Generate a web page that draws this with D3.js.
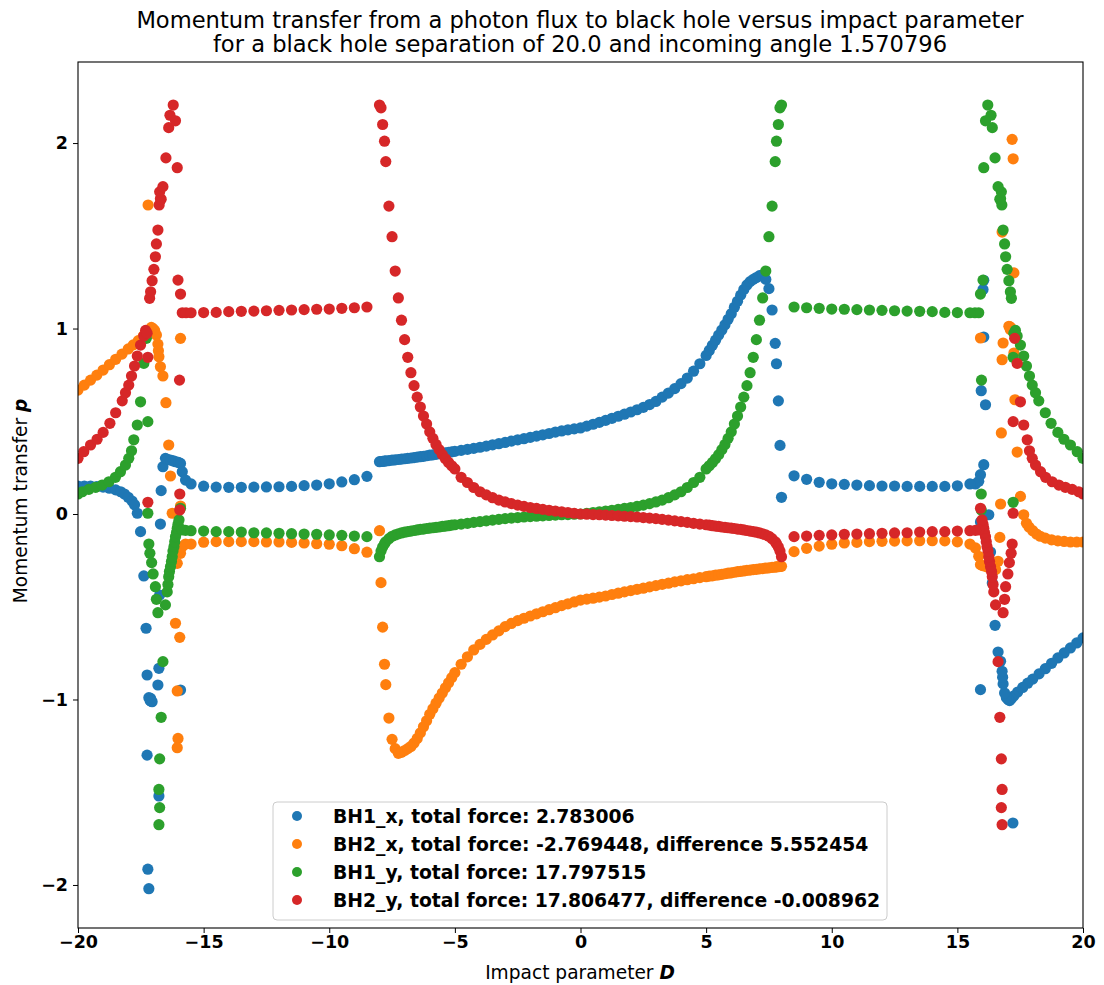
<!DOCTYPE html>
<html>
<head>
<meta charset="utf-8">
<script src="https://cdn.jsdelivr.net/npm/d3@7"></script>
<style>
  body { margin: 0; background: #fff; }
  svg { font-family: "DejaVu Sans", sans-serif; }
</style>
</head>
<body>
<div id="chart"></div>
<script>
// impact parameter grid for the dense middle part (-8 .. 8)
const D_mid = [-8,-7.94,-7.875,-7.8,-7.75,-7.625,-7.5,-7.375,-7.25,-7.125,-7,-6.875,-6.75,-6.625,-6.5,-6.375,-6.25,-6.125,-6,-5.875,-5.75,-5.625,-5.5,-5.375,-5.25,-5.125,-5,
  -4.75,-4.5,-4.25,-4,-3.75,-3.5,-3.25,-3,-2.75,-2.5,-2.25,-2,-1.75,-1.5,-1.25,-1,-0.75,-0.5,-0.25,0,
  0.25,0.5,0.75,1,1.25,1.5,1.75,2,2.25,2.5,2.75,3,3.25,3.5,3.75,4,4.25,4.5,4.75,
  5,5.125,5.25,5.375,5.5,5.625,5.75,5.875,6,6.125,6.25,6.375,6.5,6.625,6.75,6.875,7,7.125,7.25,7.375,7.5,7.625,7.75,7.8,7.875,7.94,8]

const bh1x_mid = [0.282,0.283,0.284,0.285,0.286,0.288,0.29,0.292,0.294,0.296,0.298,0.3,0.302,0.304,0.307,0.309,0.311,0.314,0.317,0.319,0.322,0.325,0.328,0.33,0.333,0.335,0.338,
  0.343,0.349,0.354,0.36,0.366,0.373,0.379,0.386,0.393,0.4,0.406,0.413,0.42,0.427,0.434,0.442,0.448,0.454,0.459,0.464,
  0.474,0.484,0.494,0.505,0.516,0.527,0.538,0.55,0.562,0.575,0.59,0.607,0.63,0.652,0.676,0.703,0.733,0.77,0.81,
  0.855,0.882,0.91,0.937,0.965,0.992,1.02,1.05,1.08,1.115,1.147,1.18,1.21,1.235,1.253,1.265,1.275,1.285,1.29,1.265,1.215,1.1,0.92,0.81,0.61,0.37,0.09]

const bh2x_mid = [-0.09,-0.37,-0.61,-0.81,-0.92,-1.1,-1.215,-1.265,-1.29,-1.285,-1.275,-1.265,-1.253,-1.235,-1.21,-1.18,-1.147,-1.115,-1.08,-1.05,-1.02,-0.992,-0.965,-0.937,-0.91,-0.882,-0.855,
  -0.81,-0.77,-0.733,-0.703,-0.676,-0.652,-0.63,-0.607,-0.59,-0.575,-0.562,-0.55,-0.538,-0.527,-0.516,-0.505,-0.494,-0.484,-0.474,-0.464,
  -0.459,-0.454,-0.448,-0.442,-0.434,-0.427,-0.42,-0.413,-0.406,-0.4,-0.393,-0.386,-0.379,-0.373,-0.366,-0.36,-0.354,-0.349,-0.343,
  -0.338,-0.335,-0.333,-0.33,-0.328,-0.325,-0.322,-0.319,-0.317,-0.314,-0.311,-0.309,-0.307,-0.304,-0.302,-0.3,-0.298,-0.296,-0.294,-0.292,-0.29,-0.288,-0.286,-0.285,-0.284,-0.283,-0.282]

const bh1y_mid = [-0.23,-0.2,-0.178,-0.16,-0.15,-0.133,-0.12,-0.113,-0.107,-0.102,-0.098,-0.095,-0.092,-0.089,-0.086,-0.083,-0.081,-0.078,-0.076,-0.074,-0.072,-0.07,-0.067,-0.065,-0.063,-0.06,-0.058,
  -0.054,-0.05,-0.045,-0.041,-0.037,-0.033,-0.029,-0.025,-0.022,-0.019,-0.016,-0.014,-0.012,-0.01,-0.008,-0.006,-0.004,-0.003,-0.001,0,
  0.004,0.008,0.012,0.016,0.02,0.025,0.03,0.035,0.041,0.048,0.056,0.065,0.075,0.088,0.103,0.12,0.143,0.17,0.198,
  0.243,0.26,0.278,0.298,0.32,0.347,0.375,0.408,0.443,0.485,0.528,0.577,0.63,0.692,0.762,0.845,0.94,1.045,1.165,1.31,1.495,1.66,1.9,2.01,2.1,2.19,2.205]

const bh2y_mid = [2.205,2.19,2.1,2.01,1.9,1.66,1.495,1.31,1.165,1.045,0.94,0.845,0.762,0.692,0.63,0.577,0.528,0.485,0.443,0.408,0.375,0.347,0.32,0.298,0.278,0.26,0.243,
  0.198,0.17,0.143,0.12,0.103,0.088,0.075,0.065,0.056,0.048,0.041,0.035,0.03,0.025,0.02,0.016,0.012,0.008,0.004,0,
  -0.001,-0.003,-0.004,-0.006,-0.008,-0.01,-0.012,-0.014,-0.016,-0.019,-0.022,-0.025,-0.029,-0.033,-0.037,-0.041,-0.045,-0.05,-0.054,
  -0.058,-0.06,-0.063,-0.065,-0.067,-0.07,-0.072,-0.074,-0.076,-0.078,-0.081,-0.083,-0.086,-0.089,-0.092,-0.095,-0.098,-0.102,-0.107,-0.113,-0.12,-0.133,-0.15,-0.16,-0.178,-0.2,-0.23]

// coarse steps between the holes
const D_coarseL = [-15.5,-15,-14.5,-14,-13.5,-13,-12.5,-12,-11.5,-11,-10.5,-10,-9.5,-9,-8.5]
const bh1x_coarseL = [0.162,0.15,0.145,0.144,0.144,0.145,0.146,0.147,0.149,0.153,0.156,0.163,0.173,0.185,0.203]
const bh2x_coarseL = [-0.162,-0.152,-0.149,-0.149,-0.149,-0.149,-0.151,-0.151,-0.153,-0.156,-0.16,-0.163,-0.171,-0.187,-0.206]
const bh1y_coarseL = [-0.09,-0.092,-0.095,-0.095,-0.097,-0.101,-0.102,-0.104,-0.106,-0.108,-0.109,-0.113,-0.115,-0.119,-0.122]
const bh2y_coarseL = [1.085,1.086,1.087,1.091,1.093,1.094,1.096,1.098,1.1,1.102,1.104,1.105,1.109,1.112,1.116]

const D_coarseR = [8.5,9,9.5,10,10.5,11,11.5,12,12.5,13,13.5,14,14.5,15,15.5]
const bh1x_coarseR = [0.206,0.187,0.171,0.163,0.16,0.156,0.153,0.151,0.151,0.149,0.149,0.149,0.149,0.152,0.162]
const bh2x_coarseR = [-0.203,-0.185,-0.173,-0.163,-0.156,-0.153,-0.149,-0.147,-0.146,-0.145,-0.144,-0.144,-0.145,-0.15,-0.162]
const bh1y_coarseR = [1.116,1.112,1.109,1.105,1.104,1.102,1.1,1.098,1.096,1.094,1.093,1.091,1.087,1.086,1.085]
const bh2y_coarseR = [-0.122,-0.119,-0.115,-0.113,-0.109,-0.108,-0.106,-0.104,-0.102,-0.101,-0.097,-0.095,-0.095,-0.092,-0.09]

// outer parts and the scattered points close to D = +-17, as [D, p]
const bh1x_edge = [[-20,0.151],[-19.75,0.151],[-19.5,0.151],[-19.25,0.148],[-19,0.145],[-18.75,0.139],[-18.5,0.13],[-18.3,0.12],[-18.15,0.108],[-18,0.09],[-17.85,0.07],[-17.75,0.05],[-17.64,0.004],[-17.51,-0.095],[-17.38,-0.334],[-17.29,-0.616],
  [-17.25,-0.868],[-17.11,-0.994],[-17.05,-1.012],[-17.18,-0.99],[-17.13,-1.005],[-17.08,-1.01],[-17.25,-1.3],[-16.78,-1.52],[-17.22,-1.915],[-17.18,-2.02],[-16.82,-0.922],[-16.78,-0.832],[-16.72,-0.054],[-16.75,-0.437],[-16.69,0.126],[-16.62,0.255],[-16.52,0.3],[-16.45,0.295],[-16.32,0.291],[-16.2,0.286],[-16.12,0.282],[-16,0.278],[-15.92,0.273],[-15.85,0.228],[-15.72,0.183],[-15.92,-0.949],
  [20,-0.668],[19.75,-0.695],[19.5,-0.722],[19.25,-0.749],[19,-0.776],[18.75,-0.805],[18.5,-0.834],[18.25,-0.862],[18,-0.89],[17.8,-0.912],[17.6,-0.935],[17.4,-0.96],[17.25,-0.98],[17.15,-0.995],[17.08,-1.006],
  [17.21,-1.666],[17.02,-1],[16.95,-0.99],[16.88,-0.965],[16.82,-0.916],[16.8,-0.88],[16.78,-0.848],[16.72,-0.794],[16.62,-0.744],[16.5,-0.6],[16.39,-0.372],[16.32,-0.205],[16.25,-0.004],[16.12,0.589],[16.05,0.954],[16.02,1.21],[16.05,1.26],[15.95,0.665],[16.05,0.266],[15.92,0.212],[15.85,0.176],[15.72,0.162],[15.92,-0.043],[15.92,-0.947]]

const bh2x_edge = [[-20,0.668],[-19.75,0.695],[-19.5,0.722],[-19.25,0.749],[-19,0.776],[-18.75,0.805],[-18.5,0.834],[-18.25,0.862],[-18,0.89],[-17.8,0.912],[-17.6,0.935],[-17.4,0.96],[-17.25,0.98],[-17.15,0.995],[-17.08,1.006],
  [-17.21,1.666],[-17.02,1],[-16.95,0.99],[-16.88,0.965],[-16.82,0.916],[-16.8,0.88],[-16.78,0.848],[-16.72,0.794],[-16.62,0.744],[-16.5,0.6],[-16.39,0.372],[-16.32,0.205],[-16.25,0.004],[-16.12,-0.589],[-16.05,-0.954],[-16.02,-1.21],[-16.05,-1.26],[-15.95,-0.665],[-16.05,-0.266],[-15.92,-0.212],[-15.85,-0.176],[-15.72,-0.162],[-15.92,0.043],[-15.92,0.947],
  [20,-0.151],[19.75,-0.151],[19.5,-0.151],[19.25,-0.148],[19,-0.145],[18.75,-0.139],[18.5,-0.13],[18.3,-0.12],[18.15,-0.108],[18,-0.09],[17.85,-0.07],[17.75,-0.05],[17.64,-0.004],[17.51,0.095],[17.38,0.334],[17.29,0.616],
  [17.25,0.868],[17.11,0.994],[17.05,1.012],[17.18,0.99],[17.13,1.005],[17.08,1.01],[17.25,1.3],[16.78,1.52],[17.22,1.915],[17.18,2.02],[16.82,0.922],[16.78,0.832],[16.72,0.054],[16.75,0.437],[16.69,-0.126],[16.62,-0.255],[16.52,-0.3],[16.45,-0.295],[16.32,-0.291],[16.2,-0.286],[16.12,-0.282],[16,-0.278],[15.92,-0.273],[15.85,-0.228],[15.72,-0.183],[15.92,0.949]]

const bh1y_edge = [[-20,0.108],[-19.83,0.12],[-19.57,0.133],[-19.3,0.144],[-19.04,0.156],[-18.77,0.174],[-18.51,0.198],[-18.31,0.228],[-18.11,0.264],[-17.98,0.3],[-17.87,0.341],[-17.78,0.4],[-17.64,0.48],[-17.51,0.605],[-17.38,0.812],[-17.28,0.947],
  [-17.22,0.498],[-17.22,0.004],[-17.18,-0.162],[-17.14,-0.212],[-17.07,-0.262],[-17.01,-0.323],[-16.92,-0.392],[-16.88,-0.46],[-16.82,-0.532],[-16.62,-0.796],[-16.69,-1.096],[-16.75,-1.32],[-16.78,-1.485],[-16.75,-1.583],[-16.78,-1.675],[-16.52,-0.49],[-16.45,-0.42],[-16.42,-0.38],[-16.39,-0.338],[-16.36,-0.31],[-16.32,-0.284],[-16.28,-0.256],[-16.25,-0.23],[-16.22,-0.2],[-16.18,-0.176],[-16.15,-0.15],[-16.12,-0.122],[-16.08,-0.1],[-16.05,-0.077],[-16.02,-0.055],[-15.98,-0.032],[-15.92,0.031],[-15.85,-0.085],[-15.72,-0.088],
  [20,0.3],[19.77,0.336],[19.5,0.372],[19.24,0.403],[19,0.44],[18.73,0.489],[18.5,0.546],[18.24,0.61],[18.11,0.654],[17.98,0.695],[17.87,0.744],[17.75,0.798],[17.64,0.852],[17.51,0.911],[17.38,0.96],[17.31,0.99],
  [17.25,0.975],[17.22,0.845],[17.22,0.063],[17.15,1.163],[17.11,1.198],[17.05,1.258],[16.98,1.319],[16.92,1.387],[16.88,1.456],[16.82,1.531],[16.77,1.666],[16.72,1.7],[16.69,1.697],[16.75,1.737],[16.62,1.765],[16.5,1.92],[16.39,2.083],[16.34,2.15],[16.21,2.205],[16.12,2.12],[16.05,1.867],[16.02,1.261],[15.92,1.186],[15.96,0.722],[15.95,0.108],[15.95,0.022],[15.85,1.085],[15.7,1.085]]

const bh2y_edge = [[-20,0.3],[-19.77,0.336],[-19.5,0.372],[-19.24,0.403],[-19,0.44],[-18.73,0.489],[-18.5,0.546],[-18.24,0.61],[-18.11,0.654],[-17.98,0.695],[-17.87,0.744],[-17.75,0.798],[-17.64,0.852],[-17.51,0.911],[-17.38,0.96],[-17.31,0.99],
  [-17.25,0.975],[-17.22,0.845],[-17.22,0.063],[-17.15,1.163],[-17.11,1.198],[-17.05,1.258],[-16.98,1.319],[-16.92,1.387],[-16.88,1.456],[-16.82,1.531],[-16.77,1.666],[-16.72,1.7],[-16.69,1.697],[-16.75,1.737],[-16.62,1.765],[-16.5,1.92],[-16.39,2.083],[-16.34,2.15],[-16.21,2.205],[-16.12,2.12],[-16.05,1.867],[-16.02,1.261],[-15.92,1.186],[-15.96,0.722],[-15.95,0.108],[-15.95,0.022],[-15.85,1.085],[-15.7,1.085],
  [20,0.108],[19.83,0.12],[19.57,0.133],[19.3,0.144],[19.04,0.156],[18.77,0.174],[18.51,0.198],[18.31,0.228],[18.11,0.264],[17.98,0.3],[17.87,0.341],[17.78,0.4],[17.64,0.48],[17.51,0.605],[17.38,0.812],[17.28,0.947],
  [17.22,0.498],[17.22,0.004],[17.18,-0.162],[17.14,-0.212],[17.07,-0.262],[17.01,-0.323],[16.92,-0.392],[16.88,-0.46],[16.82,-0.532],[16.62,-0.796],[16.69,-1.096],[16.75,-1.32],[16.78,-1.485],[16.75,-1.583],[16.78,-1.675],[16.52,-0.49],[16.45,-0.42],[16.42,-0.38],[16.39,-0.338],[16.36,-0.31],[16.32,-0.284],[16.28,-0.256],[16.25,-0.23],[16.22,-0.2],[16.18,-0.176],[16.15,-0.15],[16.12,-0.122],[16.08,-0.1],[16.05,-0.077],[16.02,-0.055],[15.98,-0.032],[15.92,0.031],[15.85,-0.085],[15.72,-0.088]]

const seriesNames = ["BH1_x, total force: 2.783006",
  "BH2_x, total force: -2.769448, difference 5.552454",
  "BH1_y, total force: 17.797515",
  "BH2_y, total force: 17.806477, difference -0.008962"]
const colors = ["#1f77b4", "#ff7f0e", "#2ca02c", "#d62728"]
const xTicks = [-20, -15, -10, -5, 0, 5, 10, 15, 20]
const yTicks = [-2, -1, 0, 1, 2]

// build the point lists per series
function pairs(ds, ps) { return ds.map((d, i) => [d, ps[i]]) }
const series = [
  bh1x_edge.concat(pairs(D_coarseL, bh1x_coarseL), pairs(D_mid, bh1x_mid), pairs(D_coarseR, bh1x_coarseR)),
  bh2x_edge.concat(pairs(D_coarseL, bh2x_coarseL), pairs(D_mid, bh2x_mid), pairs(D_coarseR, bh2x_coarseR)),
  bh1y_edge.concat(pairs(D_coarseL, bh1y_coarseL), pairs(D_mid, bh1y_mid), pairs(D_coarseR, bh1y_coarseR)),
  bh2y_edge.concat(pairs(D_coarseL, bh2y_coarseL), pairs(D_mid, bh2y_mid), pairs(D_coarseR, bh2y_coarseR))
]

width = 1104
height = 985
plot = {left: 78, right: 1083, top: 62, bottom: 928}

x = d3.scaleLinear().domain([-20, 20]).range([plot.left, plot.right])
y = d3.scaleLinear().domain([-2.232, 2.437]).range([plot.bottom, plot.top])

const minus = v => String(v).replace("-", "\u2212")

var svg = d3.select("#chart").append("svg")
    .attr("width", width)
    .attr("height", height)

svg.append("defs").append("clipPath").attr("id", "clip")
  .append("rect")
    .attr("x", plot.left).attr("y", plot.top)
    .attr("width", plot.right - plot.left).attr("height", plot.bottom - plot.top)

// points, one layer per series, drawn in order
var pts = svg.append("g").attr("clip-path", "url(#clip)")
series.forEach(function(s, i) {
  pts.append("g")
    .selectAll("circle")
    .data(s)
    .join("circle")
      .attr("cx", d => x(d[0]))
      .attr("cy", d => y(d[1]))
      .attr("r", 5.6)
      .attr("fill", colors[i])
})

// frame
svg.append("rect")
    .attr("x", plot.left).attr("y", plot.top)
    .attr("width", plot.right - plot.left).attr("height", plot.bottom - plot.top)
    .attr("fill", "none").attr("stroke", "#000").attr("stroke-width", 1.1)

// axes
svg.append("g")
    .attr("transform", "translate(0," + plot.bottom + ")")
    .call(d3.axisBottom(x).tickValues(xTicks).tickSize(5).tickPadding(2.5).tickFormat(minus))
    .call(g => g.select(".domain").remove())
    .call(g => g.selectAll("text").attr("font-size", "17.5px").attr("font-weight", "bold")
              .attr("font-family", "DejaVu Sans").attr("fill", "#000"))

svg.append("g")
    .attr("transform", "translate(" + plot.left + ",0)")
    .call(d3.axisLeft(y).tickValues(yTicks).tickSize(5).tickPadding(5).tickFormat(minus))
    .call(g => g.select(".domain").remove())
    .call(g => g.selectAll("text").attr("font-size", "17.5px").attr("font-weight", "bold")
              .attr("font-family", "DejaVu Sans").attr("fill", "#000"))

// title
svg.append("text")
    .attr("x", 580).attr("y", 28)
    .attr("text-anchor", "middle").attr("font-size", "22.6px")
    .text("Momentum transfer from a photon flux to black hole versus impact parameter")
svg.append("text")
    .attr("x", 580).attr("y", 52)
    .attr("text-anchor", "middle").attr("font-size", "22.6px")
    .text("for a black hole separation of 20.0 and incoming angle 1.570796")

// axis labels
var xl = svg.append("text")
    .attr("x", 580).attr("y", 979)
    .attr("text-anchor", "middle").attr("font-size", "18.6px")
xl.append("tspan").text("Impact parameter ")
xl.append("tspan").attr("font-weight", "bold").attr("font-style", "italic").text("D")

var yl = svg.append("text")
    .attr("transform", "translate(27,501) rotate(-90)")
    .attr("text-anchor", "middle").attr("font-size", "18.6px")
yl.append("tspan").text("Momentum transfer ")
yl.append("tspan").attr("font-weight", "bold").attr("font-style", "italic").text("p")

// legend
var lg = svg.append("g")
lg.append("rect")
    .attr("x", 273).attr("y", 802).attr("width", 614).attr("height", 118)
    .attr("rx", 4).attr("fill", "#fff").attr("fill-opacity", 0.8)
    .attr("stroke", "#cccccc").attr("stroke-width", 1)
seriesNames.forEach(function(name, i) {
  var yy = 816 + i * 28
  lg.append("circle").attr("cx", 297).attr("cy", yy).attr("r", 5).attr("fill", colors[i])
  lg.append("text").attr("x", 333).attr("y", yy + 6.5)
    .attr("font-size", "18.8px").attr("font-weight", "bold").text(name)
})
</script>
</body>
</html>
